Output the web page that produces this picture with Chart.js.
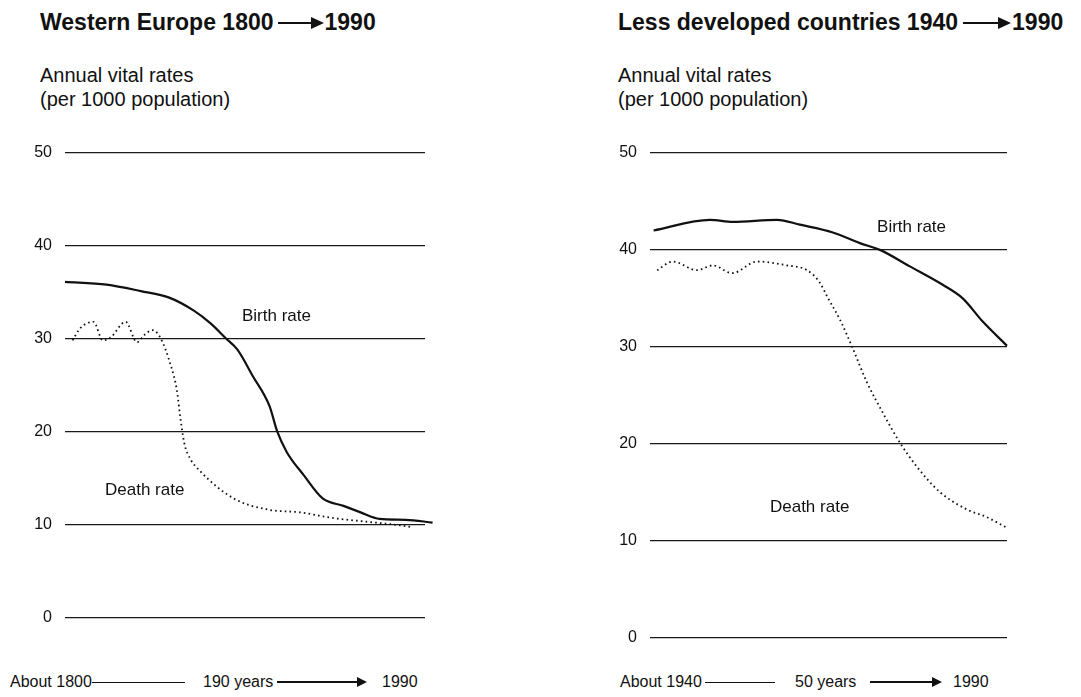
<!DOCTYPE html>
<html>
<head>
<meta charset="utf-8">
<title>Vital rates</title>
<script src="https://cdn.jsdelivr.net/npm/chart.js@4.4.1/dist/chart.umd.min.js"></script>
<style>
  body { margin: 0; background: #fff; font-family: "Liberation Sans", Arial, Helvetica, sans-serif; color: #111; }
  #page { position: relative; width: 1081px; height: 697px; overflow: hidden; }
  .title { position: absolute; top: 11px; font-size: 23px; line-height: 23px; font-weight: bold; display: flex; align-items: center; white-space: nowrap; }
  .sub { position: absolute; top: 63px; font-size: 20px; line-height: 24px; }
  .xl { position: absolute; top: 674px; font-size: 16px; line-height: 16px; white-space: nowrap; }
  .rule { position: absolute; height: 1.3px; background: #111; }
  .arrow { position: relative; display: inline-block; height: 12px; }
  .arrow::before { content: ""; position: absolute; left: 0; right: 8px; top: 50%; height: 1.5px; margin-top: -0.75px; background: #111; }
  .arrow::after { content: ""; position: absolute; right: 0; top: 50%; margin-top: -5px; border-left: 10px solid #111; border-top: 5px solid transparent; border-bottom: 5px solid transparent; }
  .title .arrow::before { height: 2px; margin-top: -1px; right: 10px; }
  .title .arrow::after { margin-top: -6px; border-left-width: 13px; border-top-width: 6px; border-bottom-width: 6px; }
  canvas { position: absolute; }
</style>
</head>
<body>
<div id="page">
  <div class="title" style="left:40px">Western Europe 1800<span class="arrow" style="width:46px;margin-left:4px;margin-right:1px"></span>1990</div>
  <div class="sub" style="left:40px">Annual vital rates<br>(per 1000 population)</div>
  <div class="title" style="left:618px">Less developed countries 1940<span class="arrow" style="width:48px;margin-left:5px;margin-right:1px"></span>1990</div>
  <div class="sub" style="left:618px">Annual vital rates<br>(per 1000 population)</div>

  <canvas id="westChart" width="445" height="510" style="left:0;top:130px"></canvas>
  <canvas id="ldcChart" width="467" height="530" style="left:560px;top:130px"></canvas>

  <div class="xl" style="left:10px">About 1800</div>
  <div class="rule" style="left:92px;width:93px;top:682px"></div>
  <div class="xl" style="left:203px">190 years</div>
  <div class="arrow" style="position:absolute;left:277px;top:676px;width:90px"></div>
  <div class="xl" style="left:382px">1990</div>

  <div class="xl" style="left:620px">About 1940</div>
  <div class="rule" style="left:705px;width:70px;top:682px"></div>
  <div class="xl" style="left:795px">50 years</div>
  <div class="arrow" style="position:absolute;left:870px;top:676px;width:72px"></div>
  <div class="xl" style="left:953px">1990</div>
</div>

<script>
// Western Europe, years since 1800
const westBirthYears = [0, 22, 40, 55, 68, 77, 85, 91, 99, 108, 112, 117, 126, 136, 147, 156, 166, 180, 194];
const westBirth = [36.1, 35.8, 35.1, 34.4, 33.0, 31.6, 30.0, 28.8, 26.0, 22.7, 20.0, 17.8, 15.3, 12.8, 12.0, 11.3, 10.6, 10.5, 10.2];
const westDeathYears = [4, 8, 15, 20, 24, 32, 38, 42, 46, 50, 56, 59, 61, 63, 66, 71, 89, 107, 124, 141, 159, 177, 183];
const westDeath = [29.8, 31.1, 31.8, 29.8, 30.1, 31.8, 29.6, 30.4, 30.9, 30.2, 27.0, 24.5, 21.3, 18.7, 17.1, 15.8, 12.8, 11.6, 11.3, 10.7, 10.3, 9.9, 9.7];

// Less developed countries, years since 1940
const ldcBirthYears = [0.5, 8.4, 11.6, 17.8, 21, 25.6, 29.4, 32.2, 36.4, 41, 43.8, 46.6, 50];
const ldcBirth = [42.0, 43.1, 42.9, 43.1, 42.6, 41.8, 40.7, 40.0, 38.3, 36.4, 35.0, 32.6, 30.1];
const ldcDeathYears = [1, 3.2, 6.6, 8.8, 11.5, 15, 19.2, 22, 23.8, 24.8, 26.6, 28.3, 30.4, 32.6, 35, 37.4, 40.6, 44.4, 47.2, 50];
const ldcDeath = [37.9, 38.8, 37.9, 38.4, 37.6, 38.8, 38.4, 37.9, 36.6, 35.2, 32.8, 30.0, 26.3, 23.2, 20.1, 17.6, 15.0, 13.2, 12.4, 11.3];

const yTicks = [0, 10, 20, 30, 40, 50];
const FONT = '"Liberation Sans", Arial, Helvetica, sans-serif';

function pts(xs, ys) {
    return xs.map((x, i) => ({ x: x, y: ys[i] }));
}

// writes "Birth rate" / "Death rate" at data coordinates
const textLabels = {
    id: 'textLabels',
    afterDatasetsDraw(chart, args, opts) {
        const { ctx, scales: { x, y } } = chart;
        ctx.save();
        ctx.font = '17px ' + FONT;
        ctx.fillStyle = '#111';
        ctx.textBaseline = 'middle';
        ctx.textAlign = 'left';
        opts.items.forEach(it => ctx.fillText(it.text, x.getPixelForValue(it.x), y.getPixelForValue(it.y)));
        ctx.restore();
    }
};

function makeChart(id, xMax, birthXs, birthYs, deathXs, deathYs, axisWidth, pad, labels) {
    return new Chart(document.getElementById(id), {
        type: 'line',
        data: {
            datasets: [{
                label: 'Birth rate',
                data: pts(birthXs, birthYs),
                borderColor: '#111',
                borderWidth: 2.2,
                cubicInterpolationMode: 'monotone',
                pointRadius: 0,
                clip: false
            }, {
                label: 'Death rate',
                data: pts(deathXs, deathYs),
                borderColor: '#111',
                borderWidth: 1.8,
                borderDash: [1.6, 3.2],
                cubicInterpolationMode: 'monotone',
                pointRadius: 0,
                clip: false
            }]
        },
        options: {
            responsive: false,
            animation: false,
            layout: { padding: pad },
            plugins: {
                legend: { display: false },
                tooltip: { enabled: false },
                textLabels: { items: labels }
            },
            scales: {
                x: { type: 'linear', min: 0, max: xMax, display: false },
                y: {
                    min: 0,
                    max: 50,
                    afterBuildTicks: s => { s.ticks = yTicks.map(v => ({ value: v })); },
                    afterFit: s => { s.width = axisWidth; },
                    border: { display: false },
                    grid: { color: '#1a1a1a', lineWidth: 1.3, drawTicks: false },
                    ticks: { padding: 13, color: '#111', font: { family: FONT, size: 16 } }
                }
            }
        },
        plugins: [textLabels]
    });
}

makeChart('westChart', 190, westBirthYears, westBirth, westDeathYears, westDeath, 65,
    { top: 20, bottom: 19, right: 20, left: 0 },
    [{ text: 'Birth rate', x: 93.4, y: 32.4 }, { text: 'Death rate', x: 21.1, y: 13.7 }]);

makeChart('ldcChart', 50, ldcBirthYears, ldcBirth, ldcDeathYears, ldcDeath, 90,
    { top: 23, bottom: 22, right: 20, left: 0 },
    [{ text: 'Birth rate', x: 31.8, y: 42.3 }, { text: 'Death rate', x: 16.8, y: 13.4 }]);
</script>
</body>
</html>
